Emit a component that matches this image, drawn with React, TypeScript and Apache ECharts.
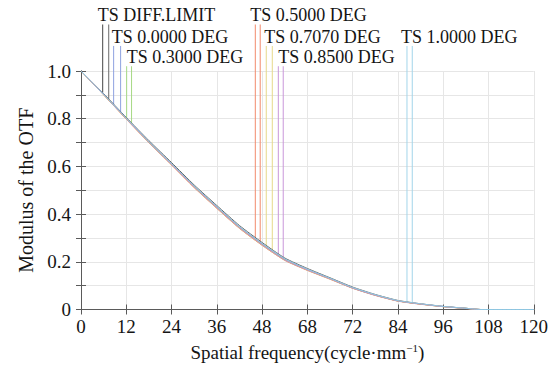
import React, { useEffect, useRef } from "react";
import * as echarts from "echarts";

// Spatial frequency samples (cycle/mm)
const freq = [0, 6, 12, 18, 24, 30, 36, 42, 48, 54, 60, 66, 72, 78, 84, 90, 96, 102, 106, 120];

// MTF values per field
const mtfDiffLimit = [1.0, 0.905, 0.805, 0.708, 0.616, 0.522, 0.436, 0.352, 0.281, 0.216, 0.172, 0.133, 0.094, 0.063, 0.038, 0.024, 0.013, 0.005, 0, 0];
const mtf0000 = [1.0, 0.902, 0.801, 0.703, 0.61, 0.516, 0.43, 0.346, 0.275, 0.211, 0.168, 0.13, 0.091, 0.061, 0.036, 0.023, 0.013, 0.005, 0, 0];
const mtf0300 = [1.0, 0.901, 0.8, 0.702, 0.609, 0.515, 0.428, 0.344, 0.273, 0.209, 0.166, 0.129, 0.09, 0.06, 0.036, 0.023, 0.012, 0.005, 0, 0];
const mtf0500 = [1.0, 0.9, 0.798, 0.699, 0.606, 0.511, 0.424, 0.34, 0.269, 0.206, 0.164, 0.127, 0.089, 0.059, 0.035, 0.022, 0.012, 0.004, 0, 0];
const mtf0707 = [1.0, 0.9, 0.799, 0.7, 0.607, 0.512, 0.425, 0.341, 0.27, 0.207, 0.165, 0.128, 0.09, 0.06, 0.036, 0.023, 0.012, 0.005, 0, 0];
const mtf0850 = [1.0, 0.901, 0.8, 0.701, 0.608, 0.514, 0.427, 0.343, 0.272, 0.208, 0.166, 0.129, 0.09, 0.06, 0.036, 0.023, 0.012, 0.005, 0, 0];
const mtf1000 = [1.0, 0.902, 0.802, 0.704, 0.611, 0.518, 0.432, 0.348, 0.277, 0.213, 0.169, 0.131, 0.092, 0.062, 0.037, 0.024, 0.013, 0.005, 0, 0];

const seriesNames = ["TS DIFF.LIMIT", "TS 0.0000 DEG", "TS 0.3000 DEG", "TS 0.5000 DEG", "TS 0.7070 DEG", "TS 0.8500 DEG", "TS 1.0000 DEG"];
const seriesValues = [mtfDiffLimit, mtf0000, mtf0300, mtf0500, mtf0707, mtf0850, mtf1000];

// Legend marker lines (T and S) positions in frequency, and their top in MTF units
const markerT = [5.75, 8.65, 12.1, 46.2, 49.1, 52.3, 86.4];
const markerS = [7.35, 10.5, 13.4, 47.5, 50.7, 53.6, 87.8];
const markerTop = [1.195, 1.105, 1.02, 1.195, 1.105, 1.02, 1.105];

const xTickLabels = ["0", "12", "24", "36", "48", "68", "72", "84", "96", "108", "120"];
const yTickLabels = ["0", "0.2", "0.4", "0.6", "0.8", "1.0"];

// styles
const colorsT = ["#454545", "#8ea2e0", "#a6d985", "#f28a6c", "#e6d98a", "#c996da", "#a3d5ea"];
const colorsS = ["#6a6a6a", "#8ea2e0", "#a6d985", "#f28a6c", "#e6d98a", "#c996da", "#a3d5ea"];
const curveColors = ["#666666", "#7f96d8", "#98cf78", "#ee8060", "#dccd78", "#bf8ad0", "#8cc8e2"];
const labelDx = [-5, -2, 0, -5, -2, 0, -6];
const FONT = '"Liberation Serif", "Times New Roman", serif';
const TEXT = "#151515";

function interp(xs: number[], ys: number[], x: number) {
  for (let i = 0; i < xs.length - 1; i++) {
    if (x >= xs[i] && x <= xs[i + 1]) {
      const t = (x - xs[i]) / (xs[i + 1] - xs[i]);
      return ys[i] + t * (ys[i + 1] - ys[i]);
    }
  }
  return ys[ys.length - 1];
}

export default function App() {
  const ref = useRef<HTMLDivElement>(null);
  useEffect(() => {
    if (!ref.current) return;
    const chart = echarts.init(ref.current, null, { renderer: "svg" });
    const axisColor = "#5a5a5a";
    const curveSeries = seriesValues.map((vals, i) => ({
      type: "line",
      name: seriesNames[i],
      data: freq.map((f, j) => [f, vals[j]]),
      symbol: "none",
      smooth: 0.2,
      lineStyle: { width: 1, color: curveColors[i] },
      xAxisIndex: 0,
      yAxisIndex: 0,
      silent: true,
      z: 3,
    }));
    const markerSeries: any[] = [];
    seriesValues.forEach((vals, i) => {
      [markerT[i], markerS[i]].forEach((mx, k) => {
        markerSeries.push({
          type: "line",
          data: [
            [mx, markerTop[i]],
            [mx, interp(freq, vals, mx)],
          ],
          symbol: "none",
          clip: false,
          silent: true,
          lineStyle: { width: 1, color: k === 0 ? colorsT[i] : colorsS[i] },
          xAxisIndex: 0,
          yAxisIndex: 0,
          z: 2,
        });
      });
    });
    const option: any = {
      animation: false,
      backgroundColor: "#fff",
      textStyle: { fontFamily: FONT },
      grid: { left: 81, right: 14, top: 71, bottom: 56 },
      xAxis: [
        {
          type: "value",
          min: 0,
          max: 120,
          interval: 12,
          name: "Spatial frequency(cycle·mm{sup|−1})",
          nameLocation: "middle",
          nameGap: 33,
          nameTextStyle: {
            fontFamily: FONT,
            fontSize: 19,
            color: TEXT,
            rich: { sup: { fontFamily: FONT, fontSize: 11, color: TEXT, verticalAlign: "top", padding: [0, 0, 9, 0] } },
          },
          axisLine: { show: true, lineStyle: { color: axisColor, width: 1 } },
          axisTick: { show: true, inside: true, length: 5, lineStyle: { color: axisColor } },
          axisLabel: {
            fontFamily: FONT,
            fontSize: 19,
            color: TEXT,
            margin: 7,
            formatter: (v: number) => xTickLabels[Math.round(v / 12)] ?? "",
          },
          splitLine: { show: true, lineStyle: { color: "#e6e6e6", width: 1 } },
        },
        {
          type: "value",
          position: "top",
          min: 0,
          max: 120,
          interval: 12,
          axisLine: { show: true, lineStyle: { color: axisColor, width: 1 } },
          axisTick: { show: true, inside: true, length: 5, lineStyle: { color: axisColor } },
          axisLabel: { show: false },
          splitLine: { show: false },
        },
      ],
      yAxis: [
        {
          type: "value",
          min: 0,
          max: 1,
          interval: 0.1,
          name: "Modulus of the OTF",
          nameLocation: "middle",
          nameGap: 45,
          nameTextStyle: { fontFamily: FONT, fontSize: 20, color: TEXT },
          axisLine: { show: true, lineStyle: { color: axisColor, width: 1 } },
          axisTick: { show: true, inside: true, length: 5, lineStyle: { color: axisColor } },
          axisLabel: {
            fontFamily: FONT,
            fontSize: 19,
            color: TEXT,
            margin: 10,
            formatter: (v: number) => {
              const k = Math.round(v * 10);
              return k % 2 === 0 ? yTickLabels[k / 2] ?? "" : "";
            },
          },
          splitLine: { show: true, lineStyle: { color: "#e6e6e6", width: 1 } },
        },
        {
          type: "value",
          position: "right",
          min: 0,
          max: 1,
          interval: 0.1,
          axisLine: { show: true, lineStyle: { color: axisColor, width: 1 } },
          axisTick: { show: true, inside: true, length: 5, lineStyle: { color: axisColor } },
          axisLabel: { show: false },
          splitLine: { show: false },
        },
      ],
      series: [...markerSeries, ...curveSeries],
    };
    chart.setOption(option);
    const graphics = seriesNames.map((n, i) => {
      const p = chart.convertToPixel({ xAxisIndex: 0, yAxisIndex: 0 }, [markerT[i], markerTop[i]]) as number[];
      return {
        type: "text",
        x: p[0] + labelDx[i],
        y: p[1] - 9,
        silent: true,
        style: {
          text: n,
          fill: TEXT,
          fontFamily: FONT,
          fontSize: 18,
          lineHeight: 15,
          align: "left",
          verticalAlign: "middle",
        },
      };
    });
    chart.setOption({ graphic: graphics });
    return () => chart.dispose();
  }, []);
  return <div ref={ref} style={{ position: "fixed", left: 0, top: 0, width: 551, height: 367 }} />;
}
